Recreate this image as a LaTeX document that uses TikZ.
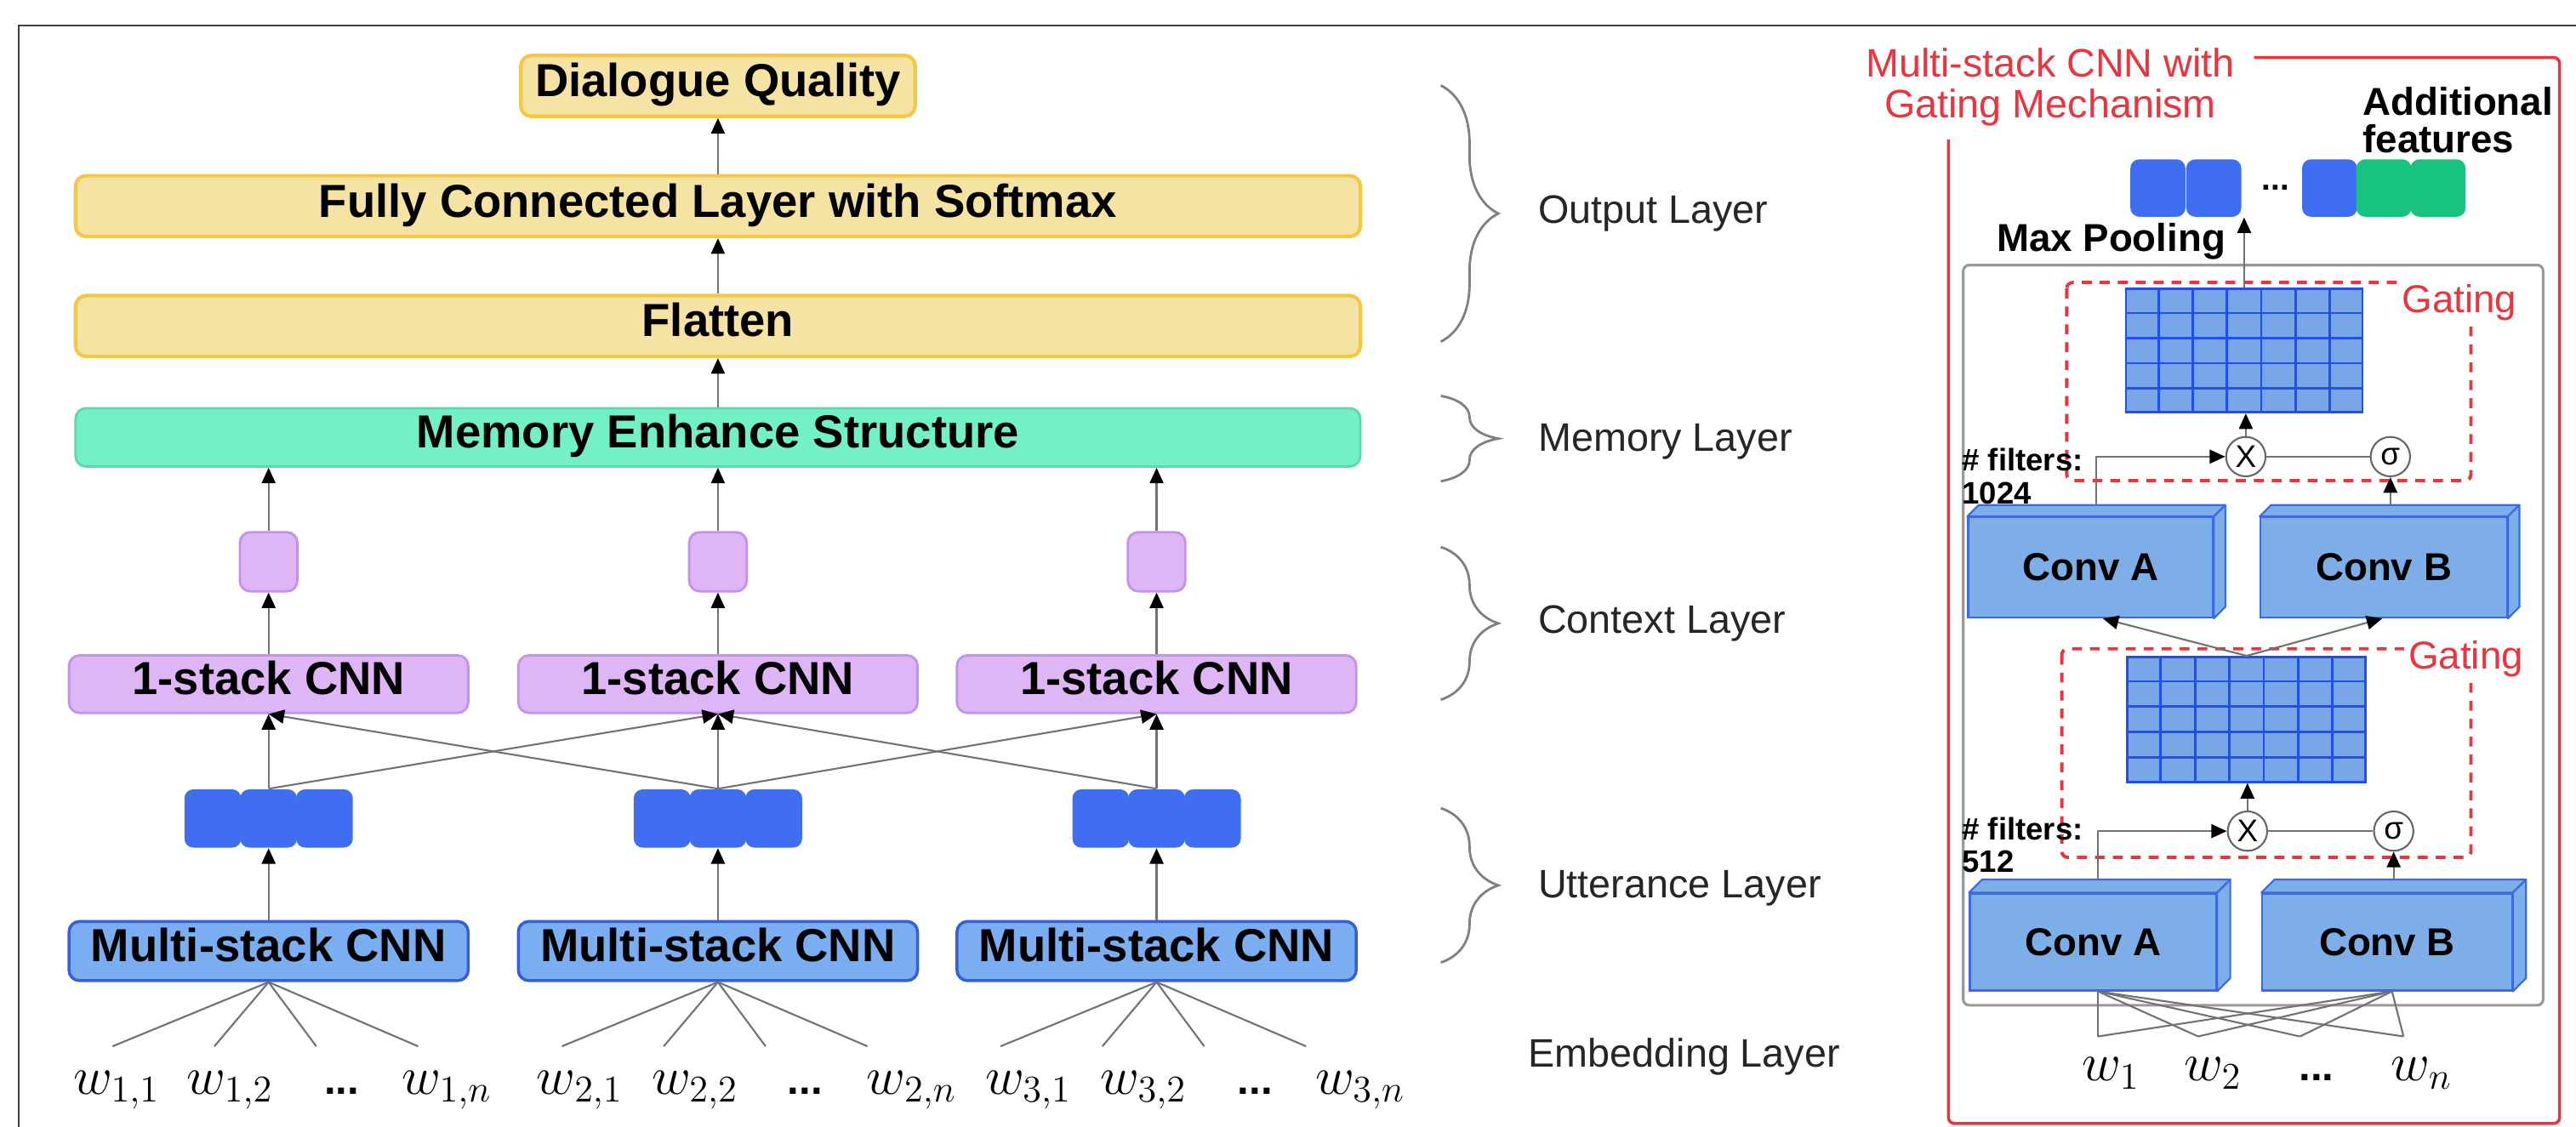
\RequirePackage{fix-cm}
\documentclass[tikz,border=0pt]{standalone}
\usepackage{fontspec}
\setmainfont{Liberation Sans}
\usetikzlibrary{arrows.meta,decorations.pathreplacing,calc}
\definecolor{yfill}{HTML}{F5E3A3}
\definecolor{ydraw}{HTML}{F4C842}
\definecolor{gfill}{HTML}{72F0C6}
\definecolor{gdraw}{HTML}{5CD8B0}
\definecolor{pfill}{HTML}{DEB6F6}
\definecolor{pdraw}{HTML}{C592EA}
\definecolor{bfill}{HTML}{7AAEF0}
\definecolor{bdraw}{HTML}{3560D8}
\definecolor{blkc}{HTML}{3F6FF0}
\definecolor{grnc}{HTML}{18C27F}
\definecolor{redc}{HTML}{E8353F}
\definecolor{convfill}{HTML}{7EAEE8}
\definecolor{convdraw}{HTML}{3A6AE0}
\definecolor{gridfill}{HTML}{78A6E6}
\definecolor{gridline}{HTML}{1E50F0}
\definecolor{lgray}{HTML}{727272}
\newcommand\ov[1]{#1*0.019311cm}
\tikzset{
  arr/.style={draw=lgray, line width=0.6pt, -{Triangle[length=5.2pt,width=4.6pt,color=black]}},
  ln/.style={draw=lgray, line width=0.6pt},
  boxbase/.style={rectangle, rounded corners=3.5pt, inner sep=0pt, text height=0.72em, text depth=0pt, font=\fontsize{15.5}{18}\selectfont\bfseries},
  ybox/.style={boxbase, fill=yfill, draw=ydraw, line width=1.2pt},
  gbox/.style={boxbase, fill=gfill, draw=gdraw, line width=0.8pt},
  pbox/.style={boxbase, fill=pfill, draw=pdraw, line width=0.8pt},
  mbox/.style={boxbase, fill=bfill, draw=bdraw, line width=1pt},
  blk/.style={rectangle, rounded corners=3pt, fill=blkc, inner sep=0pt, minimum width=\ov{34.5}, minimum height=\ov{35.5}},
  grnblk/.style={blk, fill=grnc},
  lay/.style={anchor=west, inner sep=0pt, text height=0.72em, text depth=0pt, font=\fontsize{13.3}{16}\selectfont, text=black!85},
  wl/.style={anchor=base, inner sep=0pt, font=\fontsize{18}{20}\selectfont},
  dotl/.style={anchor=base, inner sep=0pt, font=\fontsize{14}{16}\selectfont\bfseries},
  brc/.style={draw=gray, line width=0.8pt, decorate, decoration={brace, amplitude=0.676cm}},
  gate/.style={draw=redc, line width=1.1pt, dash pattern=on 3.3pt off 2.7pt, rounded corners=2pt},
  gatelbl/.style={fill=white, text=redc, inner sep=1.5pt, font=\fontsize{13}{15}\selectfont},
  gridn/.style={rectangle, fill=gridfill, draw=gridline, line width=0.8pt, inner sep=0pt},
  circ/.style={circle, draw=black!60, fill=white, minimum size=\ov{24}, inner sep=0pt, line width=0.6pt, font=\fontsize{10.5}{10.5}\selectfont},
  conv/.style={rectangle, fill=convfill, draw=convdraw, line width=0.6pt, inner sep=0pt, font=\fontsize{13}{15}\selectfont\bfseries},
  convface/.style={fill=convfill, draw=convdraw, line width=0.6pt, line join=round},
  rtxt/.style={inner sep=0pt, font=\fontsize{13}{15}\selectfont\bfseries},
  filt/.style={anchor=west, align=left, inner sep=0pt, font=\fontsize{10.4}{11}\selectfont\bfseries}
}
\begin{document}
\begin{tikzpicture}[x=0.019311cm,y=-0.019311cm]
\useasboundingbox (0,0) rectangle (1568,686);
% outer frame
\draw[black!75, line width=0.8pt] (11.4,686) -- (11.4,15.5) -- (1568,15.5);

% ---------- left network ----------
\node[ybox, minimum width=\ov{240}, minimum height=\ov{37}] (dq) at (437,52.3) {Dialogue Quality};
\node[ybox, minimum width=\ov{782}, minimum height=\ov{37}] (fc) at (437,125.5) {Fully Connected Layer with Softmax};
\node[ybox, minimum width=\ov{782}, minimum height=\ov{37}] (fl) at (437,198.5) {Flatten};
\node[gbox, minimum width=\ov{782}, minimum height=\ov{35.5}] (mem) at (437,266.3) {Memory Enhance Structure};
\draw[arr] (mem.north) -- (fl.south);
\draw[arr] (fl.north) -- (fc.south);
\draw[arr] (fc.north) -- (dq.south);

\foreach \i/\c in {1/163.5,2/437,3/704} {
  \node[pbox, minimum width=\ov{35}, minimum height=\ov{36}] (cv\i) at (\c,342) {};
  \node[pbox, minimum width=\ov{243}, minimum height=\ov{35}] (os\i) at (\c,416.5) {1-stack CNN};
  \node[blk] (b\i1) at (\c-34,498.3) {};
  \node[blk] (b\i3) at (\c+34,498.3) {};
  \node[blk] (b\i2) at (\c,498.3) {};
  \node[mbox, minimum width=\ov{243}, minimum height=\ov{36}] (ms\i) at (\c,579) {Multi-stack CNN};
  \draw[arr] (ms\i.north) -- (b\i2.south);
  \draw[arr] (b\i2.north) -- (os\i.south);
  \draw[arr] (os\i.north) -- (cv\i.south);
  \draw[arr] (cv\i.north) -- (cv\i.north |- mem.south);
  \foreach \d [count=\k] in {-95,-33,29,91} {
    \coordinate (e\i\k) at (\c+\d,637);
    \draw[ln] (ms\i.south) -- (e\i\k);
  }
}
\draw[arr] (b12.north) -- (os2.south);
\draw[arr] (b22.north) -- (os1.south);
\draw[arr] (b22.north) -- (os3.south);
\draw[arr] (b32.north) -- (os2.south);

% word labels
\node[wl] (w11) at (71,666) {$w_{1,1}$};
\node[wl] (w12) at (140,666) {$w_{1,2}$};
\node[dotl] (d1) at (208,666) {...};
\node[wl] (w1n) at (272,666) {$w_{1,n}$};
\node[wl] (w21) at (353,666) {$w_{2,1}$};
\node[wl] (w22) at (423,666) {$w_{2,2}$};
\node[dotl] (d2) at (490,666) {...};
\node[wl] (w2n) at (555,666) {$w_{2,n}$};
\node[wl] (w31) at (626,666) {$w_{3,1}$};
\node[wl] (w32) at (696,666) {$w_{3,2}$};
\node[dotl] (d3) at (764,666) {...};
\node[wl] (w3n) at (828,666) {$w_{3,n}$};

% braces and layer labels
\draw[brc] (877,52) -- (877,208);
\draw[brc] (877,241) -- (877,293);
\draw[brc] (877,333) -- (877,426);
\draw[brc] (877,492) -- (877,586);
\node[lay] (lo) at (936,129.5) {Output Layer};
\node[lay] (lm) at (936,268) {Memory Layer};
\node[lay] (lc) at (936,379) {Context Layer};
\node[lay] (lu) at (936,540) {Utterance Layer};
\node[lay] (le) at (930,643) {Embedding Layer};

% ---------- right panel ----------
\draw[redc, line width=1pt, rounded corners=2pt] (1186,85) -- (1186,684) -- (1558,684) -- (1558,35) -- (1372,35);
\node[text=redc, align=center, inner sep=0pt, font=\fontsize{13.3}{13.7}\selectfont] (title) at (1248,53) {Multi-stack CNN with\\Gating Mechanism};
\draw[draw=black!40, line width=0.9pt, rounded corners=2pt] (1195,161.4) rectangle (1548,612);

% top feature vector
\node[blk, minimum width=\ov{33.5}, minimum height=\ov{35}] (t1) at (1313.5,114.5) {};
\node[blk, minimum width=\ov{33.5}, minimum height=\ov{35}] (t2) at (1347.5,114.5) {};
\node[inner sep=0pt, font=\fontsize{11}{12}\selectfont\bfseries] (tdots) at (1385,114) {...};
\node[blk, minimum width=\ov{33.5}, minimum height=\ov{35}] (t3) at (1418,114.5) {};
\node[grnblk, minimum width=\ov{33.5}, minimum height=\ov{35}] (t4) at (1451,114.5) {};
\node[grnblk, minimum width=\ov{33.5}, minimum height=\ov{35}] (t5) at (1484,114.5) {};
\node[rtxt, anchor=west, align=left, font=\fontsize{13}{12.6}\selectfont\bfseries] (addf) at (1438,73) {Additional\\features};
\node[rtxt, anchor=west, text height=0.72em, text depth=0pt] (mp) at (1215,146.5) {Max Pooling};

% upper gating block
\draw[gate] (1258,172) rectangle (1504,292.6);
\node[gatelbl] (gl1) at (1497,184) {Gating};
\node[gridn, minimum width=\ov{144}, minimum height=\ov{75}] (g1) at (1366,213.5) {};
\foreach \k in {1,...,6} \draw[gridline, line width=0.8pt] ($(g1.south west)!\k/7!(g1.south east)$) -- ($(g1.north west)!\k/7!(g1.north east)$);
\foreach \k in {1,...,4} \draw[gridline, line width=0.8pt] ($(g1.south west)!\k/5!(g1.north west)$) -- ($(g1.south east)!\k/5!(g1.north east)$);
\node[circ] (x1) at (1367,278) {X};
\node[circ] (s1) at (1455,278) {σ};
\node[filt] (f1) at (1194,290) {\# filters:\\1024};

\node[conv, minimum width=\ov{149}, minimum height=\ov{61}] (ca1) at (1272.5,345.5) {Conv A};
\draw[convface] (ca1.north west) -- ++(7,-7) -- ($(ca1.north east)+(7,-7)$) -- (ca1.north east) -- cycle;
\draw[convface] (ca1.north east) -- ++(7,-7) -- ($(ca1.south east)+(7,-7)$) -- (ca1.south east) -- cycle;
\node[conv, minimum width=\ov{150}, minimum height=\ov{61}] (cb1) at (1451,345.5) {Conv B};
\draw[convface] (cb1.north west) -- ++(7,-7) -- ($(cb1.north east)+(7,-7)$) -- (cb1.north east) -- cycle;
\draw[convface] (cb1.north east) -- ++(7,-7) -- ($(cb1.south east)+(7,-7)$) -- (cb1.south east) -- cycle;

\draw[arr] ($(ca1.north)+(3.5,-7)$) |- (x1.west);
\draw[ln] (x1.east) -- (s1.west);
\draw[arr] ($(cb1.north)+(4,-7)$) -- (s1.south);
\draw[arr] (x1.north) -- (x1.north |- g1.south);
\draw[arr] (g1.north) -- (g1.north |- t2.south);

% lower gating block
\draw[gate] (1255,395) rectangle (1504,522);
\node[gatelbl] (gl2) at (1501,401) {Gating};
\node[gridn, minimum width=\ov{145}, minimum height=\ov{76}] (g2) at (1367.5,438) {};
\foreach \k in {1,...,6} \draw[gridline, line width=0.8pt] ($(g2.south west)!\k/7!(g2.south east)$) -- ($(g2.north west)!\k/7!(g2.north east)$);
\foreach \k in {1,...,4} \draw[gridline, line width=0.8pt] ($(g2.south west)!\k/5!(g2.north west)$) -- ($(g2.south east)!\k/5!(g2.north east)$);
\draw[arr] (g2.north) -- ($(ca1.south)+(7.5,0)$);
\draw[arr] (g2.north) -- ($(cb1.south)+(-1,0)$);
\node[circ] (x2) at (1368,506) {X};
\node[circ] (s2) at (1457,506) {σ};
\node[filt] (f2) at (1194,514.5) {\# filters:\\512};

\node[conv, minimum width=\ov{150}, minimum height=\ov{59}] (ca2) at (1274,573.5) {Conv A};
\draw[convface] (ca2.north west) -- ++(8,-8) -- ($(ca2.north east)+(8,-8)$) -- (ca2.north east) -- cycle;
\draw[convface] (ca2.north east) -- ++(8,-8) -- ($(ca2.south east)+(8,-8)$) -- (ca2.south east) -- cycle;
\node[conv, minimum width=\ov{152}, minimum height=\ov{59}] (cb2) at (1453,573.5) {Conv B};
\draw[convface] (cb2.north west) -- ++(8,-8) -- ($(cb2.north east)+(8,-8)$) -- (cb2.north east) -- cycle;
\draw[convface] (cb2.north east) -- ++(8,-8) -- ($(cb2.south east)+(8,-8)$) -- (cb2.south east) -- cycle;

\draw[arr] ($(ca2.north)+(3,-8)$) |- (x2.west);
\draw[ln] (x2.east) -- (s2.west);
\draw[arr] ($(cb2.north)+(4,-8)$) -- (s2.south);
\draw[arr] (x2.north) -- (x2.north |- g2.south);

% inputs
\coordinate (rp1) at (1277,631);
\coordinate (rp2) at (1338,631);
\coordinate (rp3) at (1400,631);
\coordinate (rp4) at (1463,631);
\foreach \k in {1,...,4} {
  \draw[ln] ($(ca2.south)+(3,0)$) -- (rp\k);
  \draw[ln] ($(cb2.south)+(3,0)$) -- (rp\k);
}
\node[wl] (rw1) at (1285,658) {$w_1$};
\node[wl] (rw2) at (1347,658) {$w_2$};
\node[dotl] (rwd) at (1410,658) {...};
\node[wl] (rwn) at (1474,658) {$w_n$};
\end{tikzpicture}
\end{document}
